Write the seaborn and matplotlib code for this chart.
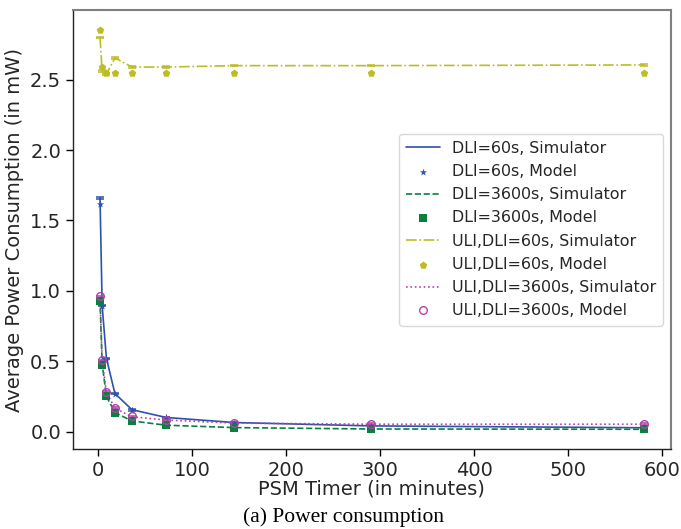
import matplotlib
matplotlib.use("Agg")
import matplotlib.pyplot as plt
import seaborn as sns
import numpy as np

psm = [2.27, 4.53, 9.06, 18.1, 36.25, 72.5, 145, 290, 580]

dli60_sim = [1.66, 0.895, 0.52, 0.27, 0.155, 0.10, 0.064, 0.04, 0.027]
dli60_model = [1.62, 0.89, 0.51, 0.27, 0.155, 0.10, 0.064, 0.04, 0.027]
dli3600_sim = [0.94, 0.48, 0.25, 0.135, 0.075, 0.045, 0.028, 0.018, 0.016]
dli3600_model = [0.93, 0.47, 0.25, 0.135, 0.075, 0.045, 0.028, 0.017, 0.015]
uli60_sim = [2.80, 2.56, 2.54, 2.655, 2.59, 2.59, 2.60, 2.60, 2.605]
uli60_model = [2.855, 2.587, 2.547, 2.547, 2.547, 2.547, 2.55, 2.55, 2.55]
uli3600_sim = [0.955, 0.505, 0.28, 0.165, 0.105, 0.082, 0.06, 0.052, 0.052]
uli3600_model = [0.96, 0.51, 0.28, 0.17, 0.11, 0.083, 0.062, 0.055, 0.055]

labels = ["DLI=60s, Simulator", "DLI=60s, Model",
          "DLI=3600s, Simulator", "DLI=3600s, Model",
          "ULI,DLI=60s, Simulator", "ULI,DLI=60s, Model",
          "ULI,DLI=3600s, Simulator", "ULI,DLI=3600s, Model"]

c_blue = "#2c52aa"
c_green = "#0b7f3f"
c_yellow = "#bcbd22"
c_mag = "#b342ad"

sns.set_theme(style="white")
plt.rcParams['font.family'] = ['DejaVu Sans']

fig = plt.figure(figsize=(6.81, 5.29), dpi=100)
ax = fig.add_axes([0.107, 0.151, 0.878, 0.830])

err = 0.006
series = [
    (dli60_sim, dli60_model, c_blue, "-", "*", True, 30),
    (dli3600_sim, dli3600_model, c_green, "--", "s", True, 28),
    (uli60_sim, uli60_model, c_yellow, "-.", "p", True, 32),
    (uli3600_sim, uli3600_model, c_mag, ":", "o", False, 30),
]
for i, (sim, mod, col, ls, mk, filled, ms) in enumerate(series):
    ax.errorbar(psm, sim, yerr=err, color=col, ls="none", capsize=3.2, elinewidth=1, capthick=1.1)
    sns.lineplot(x=psm, y=sim, ax=ax, color=col, linestyle=ls, linewidth=1.2,
                 label=labels[2 * i], estimator=None, sort=False)
    if filled:
        sns.scatterplot(x=psm, y=mod, ax=ax, color=col, marker=mk, s=ms, linewidth=0,
                        label=labels[2 * i + 1], zorder=3)
    else:
        ax.plot(psm, mod, ls="none", marker="o", markersize=5.5, markerfacecolor="none",
                markeredgecolor=col, markeredgewidth=1.0, label=labels[2 * i + 1], zorder=3)

ax.set_xlim(-26.6, 609)
ax.set_ylim(-0.125, 2.995)
ax.set_xticks([0, 100, 200, 300, 400, 500, 600])
ax.set_yticks([0.0, 0.5, 1.0, 1.5, 2.0, 2.5])
ax.set_xlabel("PSM Timer (in minutes)", fontsize=14, color="#262626", labelpad=0)
ax.set_ylabel("Average Power Consumption (in mW)", fontsize=14, color="#262626", labelpad=4)
ax.tick_params(axis="both", which="major", labelsize=14, colors="#262626",
               direction="out", length=5, width=1, left=True, bottom=True)
ax.tick_params(axis="both", colors="black")
for lab in ax.get_xticklabels() + ax.get_yticklabels():
    lab.set_color("#262626")

for s in ["left", "bottom"]:
    ax.spines[s].set_color("#222222")
    ax.spines[s].set_linewidth(1.0)
for s in ["top", "right"]:
    ax.spines[s].set_color("#808080")
    ax.spines[s].set_linewidth(1.5)

leg = ax.legend(loc="center right", bbox_to_anchor=(1.0, 0.500), fontsize=11.4,
                frameon=True, fancybox=True, framealpha=0.8, edgecolor="#d0d0d0",
                handlelength=2.1, handletextpad=0.75, borderpad=0.45, labelspacing=0.52)
for t in leg.get_texts():
    t.set_color("#262626")

fig.text(0.505, 0.023, "(a) Power consumption", fontsize=15.5, family="Liberation Serif",
         ha="center", va="center", color="black")

fig.savefig("out.png", dpi=100)
